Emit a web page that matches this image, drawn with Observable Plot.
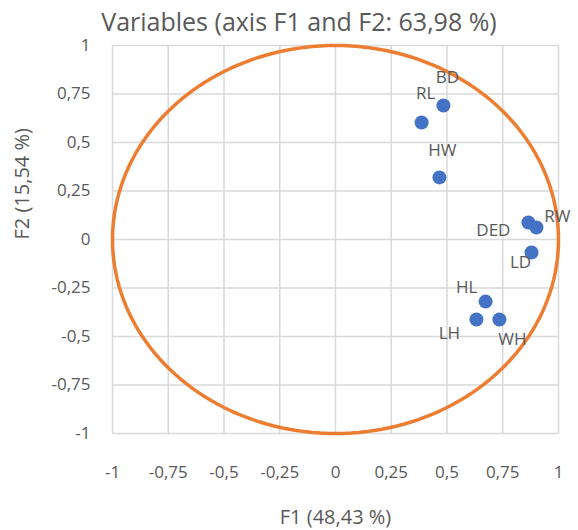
<!DOCTYPE html>
<html>
<head>
<meta charset="utf-8">
<script src="https://cdn.jsdelivr.net/npm/d3@7"></script>
<script src="https://cdn.jsdelivr.net/npm/@observablehq/plot@0.6"></script>
<style>
  html, body { margin: 0; padding: 0; background: #fff; }
  #wrap { position: relative; width: 578px; height: 530px; }
  #title { position: absolute; left: 0; top: 5px; width: 598px; text-align: center;
    font-family: "Open Sans", sans-serif; font-size: 25px; color: #595959; line-height: 32px; white-space: nowrap; }
</style>
</head>
<body>
<div id="wrap">
  <div id="chart"></div>
  <div id="title">Variables (axis F1 and F2: 63,98 %)</div>
</div>
<script>
// Data: variable loadings on F1 and F2
const names = ["BD", "RL", "HW", "DED", "RW", "LD", "HL", "LH", "WH"];
const f1 = [0.484, 0.386, 0.466, 0.865, 0.901, 0.879, 0.673, 0.632, 0.735];
const f2 = [0.691, 0.603, 0.320, 0.088, 0.062, -0.067, -0.320, -0.412, -0.412];
const ticks = [-1, -0.75, -0.5, -0.25, 0, 0.25, 0.5, 0.75, 1];
const xTitle = "F1 (48,43 %)";
const yTitle = "F2 (15,54 %)";

// Label placement (styling only)
const labelOffset = {
  BD: [4, -28], RL: [4, -29], HW: [3, -27], DED: [-35, 8], RW: [21, -11],
  LD: [-11, 10], HL: [-19, -14], LH: [-27, 14], WH: [13, 20]
};

const pts = names.map((n, i) => ({name: n, x: f1[i], y: f2[i]}));
// unit correlation circle
const circle = d3.range(0, 361, 2).map(a => ({x: Math.cos(a * Math.PI / 180), y: Math.sin(a * Math.PI / 180)}));
const vGrid = ticks.map(t => ({x1: t, x2: t, y1: -1, y2: 1}));
const hGrid = ticks.map(t => ({x1: -1, x2: 1, y1: t, y2: t}));
const fmt = d => String(d).replace(".", ",");
const font = "Open Sans, sans-serif";
const grey = "#595959";
const gridColor = "#d9d9d9";

const chart = Plot.plot({
  width: 578,
  height: 530,
  marginLeft: 112,
  marginRight: 20,
  marginTop: 45,
  marginBottom: 97,
  style: {fontFamily: font, fontSize: "17px", color: grey, background: "white"},
  x: {domain: [-1, 1], ticks: ticks},
  y: {domain: [-1, 1], ticks: ticks},
  marks: [
    Plot.link(vGrid, {x1: "x1", x2: "x2", y1: "y1", y2: "y2", stroke: gridColor, strokeWidth: 1.5}),
    Plot.link(hGrid, {x1: "x1", x2: "x2", y1: "y1", y2: "y2", stroke: gridColor, strokeWidth: 1.5}),
    Plot.axisX(ticks, {tickSize: 0, tickPadding: 32, tickFormat: fmt, label: null, fill: grey, fontSize: 17}),
    Plot.axisY(ticks, {tickSize: 0, tickPadding: 22, tickFormat: fmt, label: null, fill: grey, fontSize: 17}),
    Plot.line(circle, {x: "x", y: "y", stroke: "#ED7D31", strokeWidth: 3.5}),
    Plot.dot(pts, {x: "x", y: "y", r: 7, fill: "#4472C4", stroke: "none"}),
    ...pts.map(p => Plot.text([p], {x: "x", y: "y", text: "name", dx: labelOffset[p.name][0], dy: labelOffset[p.name][1], fill: grey, fontSize: 17})),
    Plot.text([xTitle], {frameAnchor: "bottom", dy: 90, fill: grey, fontSize: 20}),
    Plot.text([yTitle], {frameAnchor: "left", dx: -90, rotate: -90, fill: grey, fontSize: 20})
  ]
});
document.getElementById("chart").appendChild(chart);
</script>
</body>
</html>
